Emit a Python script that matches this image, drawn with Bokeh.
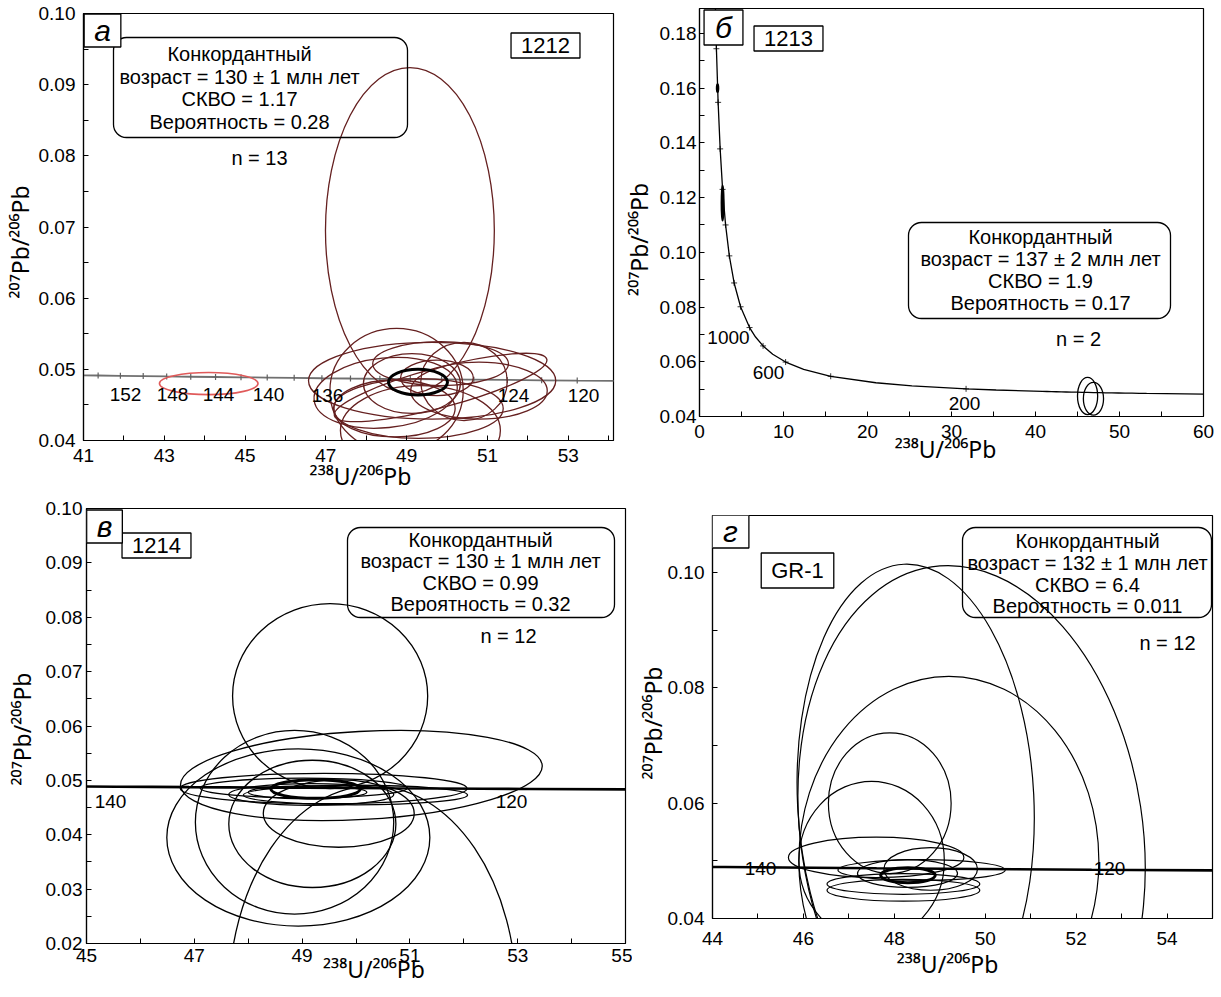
import math
from bokeh.plotting import figure
from bokeh.models import Range1d, FixedTicker, PrintfTickFormatter, Label, BoxAnnotation
from bokeh.layouts import column, row
from bokeh.embed import file_html
from bokeh.resources import INLINE

FONT = "Liberation Sans"
TFONT = "Noto Sans"   # has every superscript digit

# ---------------- data ----------------
# Concordia (Tera-Wasserburg) points along the curve: age (Ma), 238U/206Pb, 207Pb/206Pb
conc_age = [2800, 2600, 2400, 2200, 2000, 1800, 1600, 1400, 1200, 1000, 900, 800, 700, 600, 500,
            400, 300, 250, 200, 180, 160, 156, 154, 152, 150, 148, 146, 144, 142, 140, 138, 136,
            134, 132, 130, 128, 126, 124, 122, 120, 100]
conc_x = [1.838, 2.013, 2.217, 2.459, 2.749, 3.105, 3.550, 4.123, 4.888, 5.959, 6.674, 7.568, 8.718,
          10.252, 12.399, 15.621, 20.992, 25.289, 31.735, 35.316, 39.792, 40.825, 41.362, 41.913,
          42.478, 43.059, 43.655, 44.269, 44.899, 45.548, 46.215, 46.902, 47.609, 48.337, 49.090,
          49.864, 50.663, 51.489, 52.341, 53.222, 63.966]
conc_y = [0.1968, 0.1744, 0.1548, 0.1378, 0.1230, 0.1100, 0.0987, 0.0888, 0.0801, 0.0725, 0.06904,
          0.06580, 0.06276, 0.05990, 0.05722, 0.05470, 0.05233, 0.05120, 0.05011, 0.04968, 0.04926,
          0.04917, 0.04913, 0.04909, 0.04905, 0.04900, 0.04896, 0.04892, 0.04888, 0.04884, 0.04880,
          0.04875, 0.04871, 0.04867, 0.04863, 0.04859, 0.04855, 0.04851, 0.04846, 0.04842, 0.04802]

# Panel a (sample 1212): error ellipses  (centre x, centre y, semi-axis x, semi-axis y, tilt rad)
a_cx = [49.08, 48.75, 49.63, 49.84, 49.84, 49.29, 48.48, 50.79, 49.34, 49.75, 49.13, 50.42, 48.70]
a_cy = [0.0695, 0.0470, 0.0484, 0.0508, 0.04745, 0.0445, 0.0467, 0.0470, 0.0414, 0.0488, 0.0480, 0.0483, 0.0445]
a_rx = [2.09, 1.65, 3.06, 1.68, 2.72, 2.10, 1.78, 1.69, 1.98, 0.90, 1.20, 1.07, 1.50]
a_ry = [0.0229, 0.00875, 0.0054, 0.0031, 0.0028, 0.0042, 0.0049, 0.0040, 0.0063, 0.0025, 0.0042, 0.0055, 0.0040]
a_ang = [0, 0, 0, 0, 0.26, 0, 0.10, 0, 0, 0, 0, 0, 0]
a_red = [44.10, 0.0480, 1.22, 0.00155]
a_conc = [49.28, 0.0482, 0.73, 0.0018]
a_age_labels = ["152", "148", "144", "140", "136", "124", "120"]

# Panel б (sample 1213)
b_cx = [46.2, 46.9]
b_cy = [0.0475, 0.0465]
b_rx = [1.2, 1.2]
b_ry = [0.0068, 0.0060]
b_fx = [2.15, 2.75]
b_fy = [0.160, 0.118]
b_frx = [0.12, 0.15]
b_fry = [0.0015, 0.0065]
b_age_labels = ["1000", "600", "200"]

# Panel в (sample 1214)
c_cx = [49.52, 50.10, 48.93, 48.86, 49.19, 49.68, 50.31, 49.40, 49.03, 49.17, 49.99, 49.10]
c_cy = [0.0655, 0.0509, 0.0395, 0.0423, 0.0420, 0.0439, 0.0100, 0.0485, 0.0486, 0.0474, 0.0473, 0.0478]
c_rx = [1.81, 3.36, 2.44, 1.84, 1.55, 1.40, 2.67, 2.66, 1.92, 1.53, 2.08, 1.10]
c_ry = [0.0170, 0.0081, 0.0163, 0.0169, 0.0117, 0.0062, 0.0390, 0.0028, 0.0018, 0.0020, 0.0018, 0.0012]
c_ang = [0, 0.055, 0, 0, 0, 0, 0, 0, 0, 0, 0, 0]
c_conc = [49.25, 0.0484, 0.83, 0.0017]

# Panel г (sample GR-1)
d_cx = [48.47, 49.70, 49.20, 47.90, 47.50, 47.60, 48.60, 48.80, 48.29, 48.20, 48.20]
d_cy = [0.0605, 0.0550, 0.0500, 0.0600, 0.0500, 0.0506, 0.0484, 0.0486, 0.0478, 0.0460, 0.0449]
d_rx = [2.60, 3.76, 3.30, 1.35, 1.60, 1.93, 1.84, 1.03, 1.10, 1.68, 1.68]
d_ry = [0.0410, 0.0465, 0.0320, 0.0122, 0.0138, 0.0035, 0.0018, 0.0037, 0.0024, 0.0018, 0.0019]
d_ang = [0.05, 0.15, 0, 0, 0, 0, 0, 0, 0, 0, 0]
d_conc = [48.30, 0.0475, 0.60, 0.0013]

box_a = ["Конкордантный", "возраст = 130 ± 1 млн лет", "СКВО = 1.17", "Вероятность = 0.28"]
box_b = ["Конкордантный", "возраст = 137 ± 2 млн лет", "СКВО = 1.9", "Вероятность = 0.17"]
box_c = ["Конкордантный", "возраст = 130 ± 1 млн лет", "СКВО = 0.99", "Вероятность = 0.32"]
box_d = ["Конкордантный", "возраст = 132 ± 1 млн лет", "СКВО = 6.4", "Вероятность = 0.011"]

XLAB = "²³⁸U/²⁰⁶Pb"
YLAB = "²⁰⁷Pb/²⁰⁶Pb"
NB = "\u00a0"

# ---------------- helpers ----------------
def X(P, px):
    return P["x0"] + (px - P["l"]) * (P["x1"] - P["x0"]) / (P["r"] - P["l"])

def Y(P, py):
    return P["y0"] + (P["b"] - py) * (P["y1"] - P["y0"]) / (P["b"] - P["t"])


def panel(P, w, h, ox, oy, xmaj, xmin, ymaj, ymin, xst, yst, xlab, ylab, xls, yls):
    p = figure(width=w, height=h, x_range=Range1d(P["x0"], P["x1"]), y_range=Range1d(P["y0"], P["y1"]),
               output_backend="svg", toolbar_location=None, title=None,
               min_border_left=P["l"] - ox, min_border_right=ox + w - P["r"],
               min_border_top=P["t"] - oy, min_border_bottom=oy + h - P["b"])
    p.grid.visible = False
    p.outline_line_color = "black"
    p.outline_line_width = 1.2
    p.outline_line_alpha = 1.0
    p.background_fill_color = "white"
    p.border_fill_color = "white"
    p.xaxis.ticker = FixedTicker(ticks=xmaj, minor_ticks=xmin)
    p.yaxis.ticker = FixedTicker(ticks=ymaj, minor_ticks=ymin)
    p.xaxis.formatter = PrintfTickFormatter(format="%d")
    p.yaxis.formatter = PrintfTickFormatter(format="%.2f")
    p.xaxis.axis_label = xlab
    p.yaxis.axis_label = ylab
    for ax in (p.xaxis[0], p.yaxis[0]):
        ax.axis_line_color = "black"
        ax.axis_line_width = 1.2
        ax.major_tick_in = 5
        ax.major_tick_out = 0
        ax.minor_tick_in = 5
        ax.minor_tick_out = 0
        ax.major_tick_line_color = "black"
        ax.minor_tick_line_color = "black"
        ax.major_label_text_font = FONT
        ax.major_label_text_font_size = "19px"
        ax.major_label_text_color = "black"
        ax.axis_label_text_font = TFONT
        ax.axis_label_text_font_size = "23px"
        ax.axis_label_text_font_style = "normal"
        ax.axis_label_text_color = "black"
    p.xaxis.major_label_standoff = xst
    p.yaxis.major_label_standoff = yst
    p.xaxis.axis_label_standoff = xls
    p.yaxis.axis_label_standoff = yls
    return p


def txt(p, P, px, py, s, size, style="normal", **kw):
    p.add_layout(Label(x=X(P, px), y=Y(P, py), text=s, text_font=FONT, text_font_size=f"{size}px",
                       text_font_style=style, text_align="center", text_baseline="middle",
                       text_color="black", **kw))


def boxed(p, P, px, py, s, size, style, padx, pady):
    txt(p, P, px, py, s, size, style, border_line_color="black", border_line_width=1.3,
        background_fill_color="white",
        padding=dict(left=padx, right=padx, top=pady, bottom=pady))


def rbox(p, P, l, r, t, b, lines, cx, ys, size=20):
    p.add_layout(BoxAnnotation(left=X(P, l), right=X(P, r), top=Y(P, t), bottom=Y(P, b),
                               fill_color=None, fill_alpha=0, line_color="black", line_alpha=1.0,
                               line_width=1.3, border_radius=13))
    for s, yy in zip(lines, ys):
        txt(p, P, cx, yy, s, size)


def ells(p, cx, cy, rx, ry, ang, color, lw, fill=None):
    p.ellipse(x=cx, y=cy, width=[2 * v for v in rx], height=[2 * v for v in ry], angle=ang,
              fill_color=fill, line_color=color, line_width=lw)

# ---------------- panel a ----------------
PA = dict(l=83, r=613, t=13, b=440, x0=41, x1=54.12, y0=0.04, y1=0.10)
pa = panel(PA, 615, 497, 0, 0, [41, 43, 45, 47, 49, 51, 53], [42, 44, 46, 48, 50, 52, 54],
           [0.04, 0.05, 0.06, 0.07, 0.08, 0.09, 0.10],
           [0.045, 0.055, 0.065, 0.075, 0.085, 0.095], 8, 8,
           NB * 4 + XLAB, YLAB + NB * 5, -5, 0)
pa.line(conc_x, conc_y, line_color="#707070", line_width=1.8)
ta = [(x, y) for ag, x, y in zip(conc_age, conc_x, conc_y) if 118 <= ag <= 156 and ag % 2 == 0]
pa.scatter([t[0] for t in ta], [t[1] for t in ta], marker="dash", angle=math.pi / 2, size=6,
           line_color="#606060", line_width=1.2)
brown = "#652020"
ells(pa, a_cx, a_cy, a_rx, a_ry, a_ang, brown, 1.3)
ells(pa, [a_red[0]], [a_red[1]], [a_red[2]], [a_red[3]], [0], "#e05a5a", 1.6)
ells(pa, [a_conc[0]], [a_conc[1]], [a_conc[2]], [a_conc[3]], [0], "black", 3)
for s, (px, py) in zip(a_age_labels, [(125, 394), (172, 394), (218, 394), (268, 394), (327, 395),
                                      (513, 395), (583, 395)]):
    txt(pa, PA, px, py, s, 19)
rbox(pa, PA, 113, 407, 37, 137, box_a, 239, [53, 76, 98, 121])
txt(pa, PA, 259, 157, "n = 13", 20)
boxed(pa, PA, 545, 45, "1212", 22, "normal", 10, 5)
boxed(pa, PA, 102, 30, "а", 30, "italic", 10, 0)

# ---------------- panel б ----------------
PB = dict(l=699, r=1203, t=8, b=416, x0=0, x1=60, y0=0.04, y1=0.1891)
pb = panel(PB, 606, 497, 615, 0, [0, 10, 20, 30, 40, 50, 60], [5, 15, 25, 35, 45, 55],
           [0.04, 0.06, 0.08, 0.10, 0.12, 0.14, 0.16, 0.18],
           [0.05, 0.07, 0.09, 0.11, 0.13, 0.15, 0.17], 8, 3,
           XLAB + NB * 2, YLAB + NB * 9, -8, 2)
pb.line(conc_x, conc_y, line_color="black", line_width=1.3)
tb = [(x, y) for ag, x, y in zip(conc_age, conc_x, conc_y) if 200 <= ag <= 2600 and ag % 200 == 0]
pb.scatter([t[0] for t in tb], [t[1] for t in tb], marker="cross", size=6, line_color="black",
           line_width=0.8)
ells(pb, b_cx, b_cy, b_rx, b_ry, [0, 0], "black", 1.3)
ells(pb, b_fx, b_fy, b_frx, b_fry, [0, 0], "black", 1.5, fill="black")
for s, (px, py) in zip(b_age_labels, [(728, 337), (768, 372), (964, 403)]):
    txt(pb, PB, px, py, s, 19)
rbox(pb, PB, 908, 1170, 222, 318, box_b, 1040, [236, 258, 280, 302])
txt(pb, PB, 1078, 338, "n = 2", 20)
boxed(pb, PB, 788, 38, "1213", 22, "normal", 10, 5)
boxed(pb, PB, 723, 27, "б", 30, "italic", 11, 1)

# ---------------- panel в ----------------
PC = dict(l=86, r=625, t=508, b=943, x0=45, x1=55, y0=0.02, y1=0.10)
pc = panel(PC, 632, 500, 0, 497, [45, 47, 49, 51, 53, 55], [46, 48, 50, 52, 54],
           [0.02, 0.03, 0.04, 0.05, 0.06, 0.07, 0.08, 0.09, 0.10],
           [0.025, 0.035, 0.045, 0.055, 0.065, 0.075, 0.085, 0.095], 5, 4,
           NB * 6 + XLAB, YLAB + NB, -12, 5)
pc.line(conc_x, conc_y, line_color="black", line_width=2.6)
ells(pc, c_cx, c_cy, c_rx, c_ry, c_ang, "black", 1.3)
ells(pc, [c_conc[0]], [c_conc[1]], [c_conc[2]], [c_conc[3]], [0], "black", 3)
txt(pc, PC, 110, 801, "140", 19)
txt(pc, PC, 511, 801, "120", 19)
rbox(pc, PC, 347, 614, 527, 617, box_c, 480, [539, 560, 582, 603])
txt(pc, PC, 508, 635, "n = 12", 20)
boxed(pc, PC, 156, 545, "1214", 22, "normal", 10, 5)
boxed(pc, PC, 104, 526, "в", 30, "italic", 10, 0)

# ---------------- panel г ----------------
PD = dict(l=712, r=1212, t=515, b=918, x0=44, x1=55, y0=0.04, y1=0.1099)
pd = panel(PD, 589, 500, 632, 497, [44, 46, 48, 50, 52, 54], [45, 47, 49, 51, 53, 55],
           [0.04, 0.06, 0.08, 0.10], [0.05, 0.07, 0.09], 13, 8,
           XLAB + NB * 5, YLAB + NB * 2, 0, -4)
pd.line(conc_x, conc_y, line_color="black", line_width=2.6)
ells(pd, d_cx, d_cy, d_rx, d_ry, d_ang, "black", 1.2)
ells(pd, [d_conc[0]], [d_conc[1]], [d_conc[2]], [d_conc[3]], [0], "black", 3)
txt(pd, PD, 760, 868, "140", 19)
txt(pd, PD, 1109, 868, "120", 19)
rbox(pd, PD, 962, 1211, 527, 617, box_d, 1087, [540, 562, 584, 605])
txt(pd, PD, 1167, 642, "n = 12", 20)
boxed(pd, PD, 797, 570, "GR-1", 22, "normal", 10, 5)
boxed(pd, PD, 730, 531, "г", 30, "italic", 11, 0)

layout = column(row(pa, column(pb)), row(pc, column(pd)))
open("out.html", "w").write(file_html(layout, INLINE))
